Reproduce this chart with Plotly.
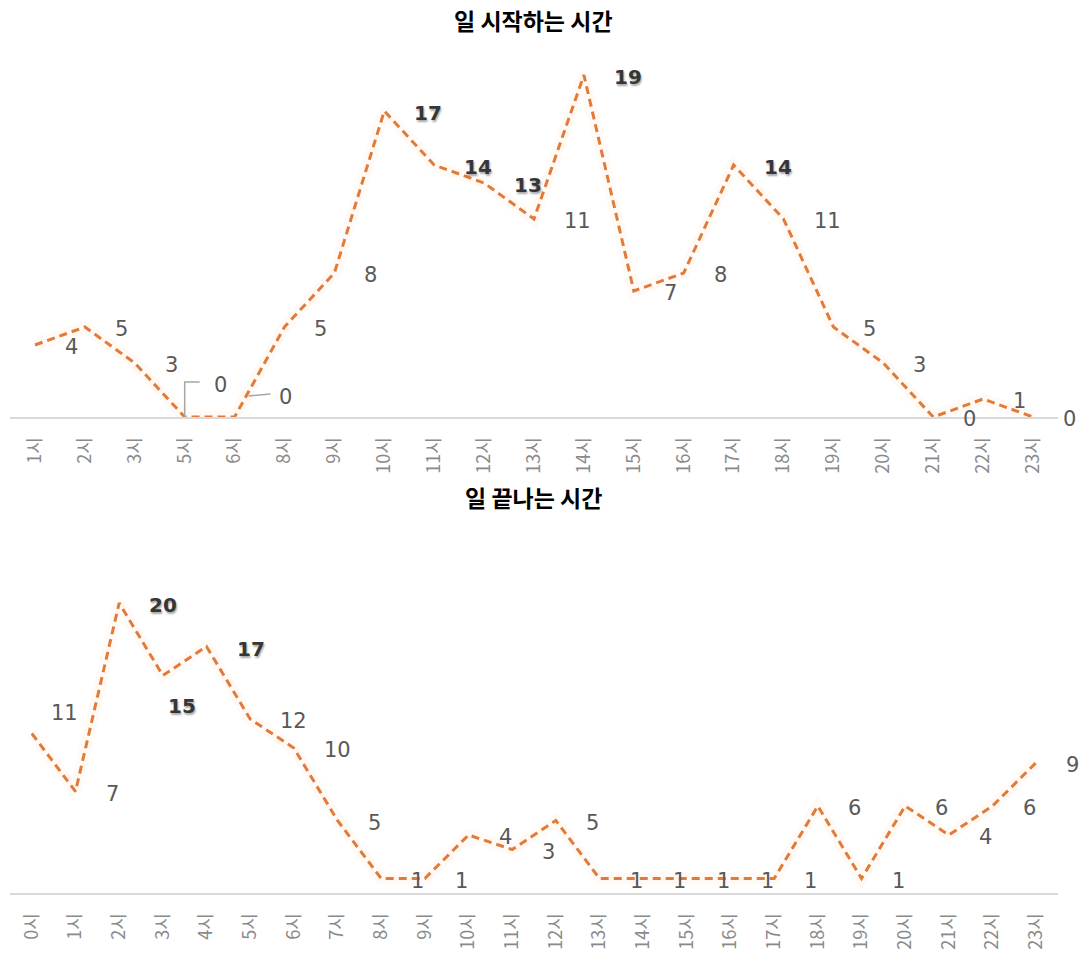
import plotly.graph_objects as go

# 일 시작하는 시간 (start hour counts)
start_hours = ["1시", "2시", "3시", "5시", "6시", "8시", "9시", "10시", "11시", "12시", "13시",
               "14시", "15시", "16시", "17시", "18시", "19시", "20시", "21시", "22시", "23시"]
start_counts = [4, 5, 3, 0, 0, 5, 8, 17, 14, 13, 11, 19, 7, 8, 14, 11, 5, 3, 0, 1, 0]

# 일 끝나는 시간 (end hour counts)
end_hours = [f"{h}시" for h in range(24)]
end_counts = [11, 7, 20, 15, 17, 12, 10, 5, 1, 1, 4, 3, 5, 1, 1, 1, 1, 1, 6, 1, 6, 4, 6, 9]

# label placement tweaks (pixel shifts), keyed by category
start_label_shift = {"5시": (27, 32), "6시": (42, 20)}
end_label_shift = {"0시": (17, 21), "3시": (3, -30)}
DEFAULT_SHIFT = (28, -2)
BOLD_FROM = 13

LINE_COLOR = "#E07B39"
GLOW = "rgba(255,222,190,0.14)"
LABEL_COLOR = "#595959"
BOLD_COLOR = "#363636"
TICK_COLOR = "#8a8a8a"
AXIS_COLOR = "#d9d9d9"

W, H = 1088, 955
X_LEFT, X_RIGHT = 10, 1058


def ydom(base_px, top_px):
    return [1 - base_px / H, 1 - top_px / H]


fig = go.Figure()

panels = [
    dict(xa="x", ya="y", cats=start_hours, vals=start_counts, shifts=start_label_shift,
         base=417, unit=18.0, ymax=20, title="일 시작하는 시간", title_y=20),
    dict(xa="x2", ya="y2", cats=end_hours, vals=end_counts, shifts=end_label_shift,
         base=893, unit=14.5, ymax=21, title="일 끝나는 시간", title_y=497),
]

annotations = []
for p in panels:
    # soft glow beneath the dashed line
    fig.add_trace(go.Scatter(x=p["cats"], y=p["vals"], mode="lines", xaxis=p["xa"], yaxis=p["ya"],
                             line=dict(color=GLOW, width=12), hoverinfo="skip", showlegend=False))
    fig.add_trace(go.Scatter(x=p["cats"], y=p["vals"], mode="lines", xaxis=p["xa"], yaxis=p["ya"],
                             line=dict(color=LINE_COLOR, width=3, dash="8px,5px"),
                             showlegend=False))
    for c, v in zip(p["cats"], p["vals"]):
        dx, dy = p["shifts"].get(c, DEFAULT_SHIFT)
        bold = v >= BOLD_FROM
        annotations.append(dict(
            x=c, y=v, xref=p["xa"], yref=p["ya"], text=str(v), showarrow=False,
            xanchor="left", yanchor="middle", xshift=dx, yshift=dy,
            font=dict(family="DejaVu Sans", size=21 if not bold else 20,
                      color=BOLD_COLOR if bold else LABEL_COLOR,
                      weight="bold" if bold else "normal",
                      shadow="1px 2px 2px rgba(0,0,0,0.35)" if bold else "none"),
        ))
    annotations.append(dict(
        x=0.49, y=1 - p["title_y"] / H, xref="paper", yref="paper", text=p["title"],
        showarrow=False, xanchor="center", yanchor="middle",
        font=dict(family="Noto Sans CJK KR", size=23, color="#000000", weight="bold"),
    ))

# leader lines for the two zero labels that were lifted off the line
shapes = [
    dict(type="path", xref="x", yref="y", xsizemode="pixel", ysizemode="pixel",
         xanchor="5시", yanchor=0, path="M 0,0 L 0,35 L 15,35",
         line=dict(color="#a6a6a6", width=1.5)),
    dict(type="path", xref="x", yref="y", xsizemode="pixel", ysizemode="pixel",
         xanchor="6시", yanchor=0, path="M 14,21 L 36,23",
         line=dict(color="#a6a6a6", width=1.5)),
]

axis_common = dict(showgrid=False, zeroline=False, showline=True, linecolor=AXIS_COLOR,
                   linewidth=2, ticks="", tickangle=-90, ticklabelstandoff=11,
                   tickfont=dict(family="Noto Sans CJK KR", size=18, color=TICK_COLOR),
                   fixedrange=True)
yaxis_common = dict(showgrid=False, zeroline=False, showline=False, showticklabels=False,
                    fixedrange=True)

top, bot = panels
fig.update_layout(
    width=W, height=H, margin=dict(l=0, r=0, t=0, b=0),
    paper_bgcolor="white", plot_bgcolor="white",
    xaxis=dict(domain=[X_LEFT / W, X_RIGHT / W], anchor="y", type="category",
               range=[-0.5, len(start_hours) - 0.5], **axis_common),
    yaxis=dict(domain=ydom(top["base"], top["base"] - top["unit"] * top["ymax"]), anchor="x",
               range=[0, top["ymax"]], **yaxis_common),
    xaxis2=dict(domain=[X_LEFT / W, X_RIGHT / W], anchor="y2", type="category",
                range=[-0.5, len(end_hours) - 0.5], **axis_common),
    yaxis2=dict(domain=ydom(bot["base"], bot["base"] - bot["unit"] * bot["ymax"]), anchor="x2",
                range=[0, bot["ymax"]], **yaxis_common),
    annotations=annotations,
    shapes=shapes,
    showlegend=False,
)

fig.write_html("out.html")
